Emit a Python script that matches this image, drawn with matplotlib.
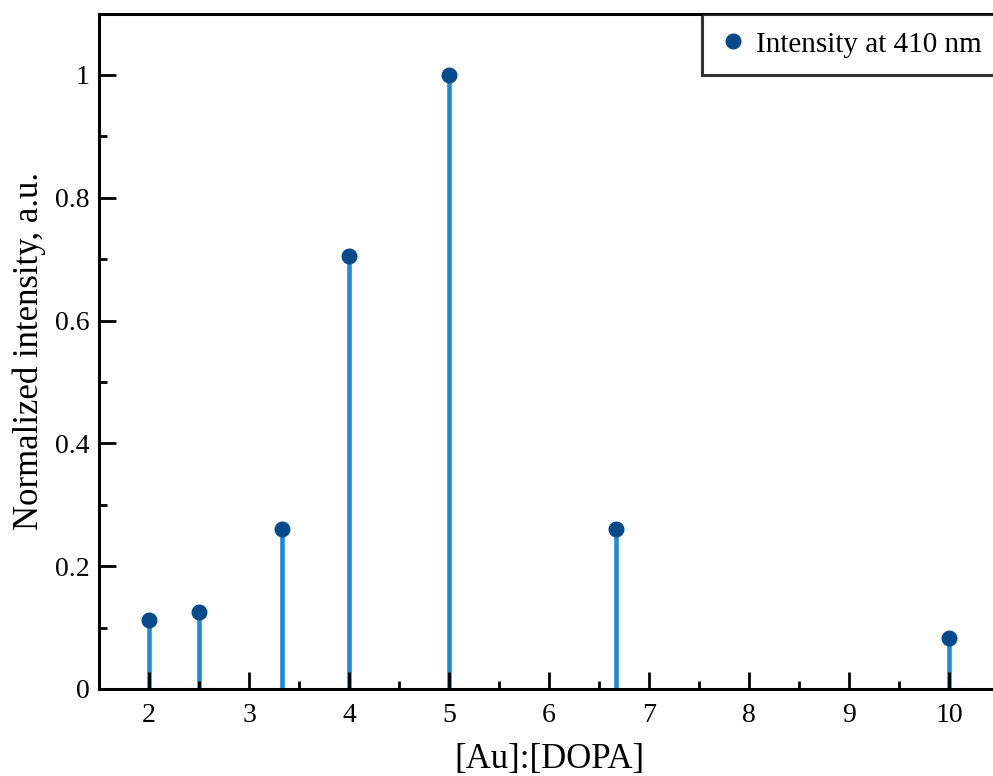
import numpy as np
import matplotlib.pyplot as plt
from matplotlib.ticker import MultipleLocator

# Au:DOPA ratios and normalized emission intensity at 410 nm
ratio = [2, 2.5, 10 / 3, 4, 5, 20 / 3, 10]
intensity = [0.112, 0.125, 0.261, 0.705, 1.0, 0.261, 0.083]

plt.rcParams['font.family'] = ['Liberation Serif', 'DejaVu Serif']

fig = plt.figure(figsize=(9.93, 7.76), dpi=100)
# axes runs past the right edge of the figure, so the right spine is off-canvas
ax = fig.add_axes([99 / 993, 87 / 776, 900 / 993, 675.4 / 776])

ax.vlines(ratio, 0, intensity, color='#1b8bd6', lw=3.3, zorder=1)
ax.plot(ratio, intensity, 'o', color='#064a8c', ms=10.5, zorder=2,
        label='Intensity at 410 nm')

ax.set_xlim(1.5, 10.5)
ax.set_ylim(0, 1.1)
ax.xaxis.set_major_locator(MultipleLocator(1))
ax.xaxis.set_minor_locator(MultipleLocator(0.5))
ax.yaxis.set_minor_locator(MultipleLocator(0.1))
ax.set_yticks([0, 0.2, 0.4, 0.6, 0.8, 1.0])
ax.set_yticklabels(['0', '0.2', '0.4', '0.6', '0.8', '1'])

ax.tick_params(which='both', direction='in', width=2, labelsize=20,
               top=False, right=False, zorder=5)
ax.tick_params(axis='x', which='major', length=12, pad=10)
ax.tick_params(axis='y', which='major', length=12, pad=7)
ax.tick_params(which='minor', length=6)
for s in ax.spines.values():
    s.set_linewidth(2.2)
    s.set_zorder(5)
ax.set_axisbelow(False)

ax.set_xlabel('[Au]:[DOPA]', fontsize=25, labelpad=11)
ax.set_ylabel('Normalized intensity, a.u.', fontsize=25, labelpad=6)

leg = ax.legend(loc='upper right', borderaxespad=0, fontsize=21,
                frameon=True, fancybox=False, handletextpad=0.35,
                borderpad=0.6, handlelength=0.9)
leg.get_frame().set_edgecolor('black')
leg.get_frame().set_linewidth(2.2)

fig.savefig('out.png', dpi=100)
